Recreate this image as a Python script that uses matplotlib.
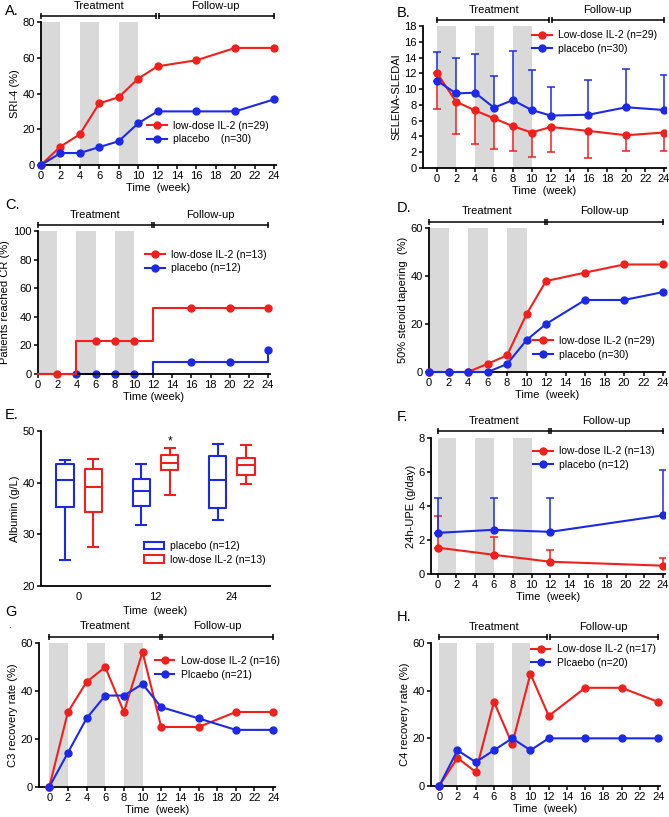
import numpy as np
import matplotlib
matplotlib.use('Agg')
import matplotlib.pyplot as plt
from matplotlib.patches import Patch
from matplotlib.lines import Line2D
from matplotlib.transforms import blended_transform_factory

plt.rcParams['font.family'] = ['Liberation Sans', 'DejaVu Sans']
plt.rcParams['font.size'] = 8

RED = '#f0201c'
BLUE = '#1c2ae8'
GRAY = '#d9d9d9'
FS = 8

weeks = [0, 2, 4, 6, 8, 10, 12, 16, 20, 24]

# A. SRI-4 (%)
sri_il2 = [0, 10.3, 17.2, 34.5, 37.9, 48.3, 55.2, 58.6, 65.5, 65.5]
sri_pbo = [0, 6.7, 6.7, 10.0, 13.3, 23.3, 30.0, 30.0, 30.0, 36.7]

# B. SELENA-SLEDAI (mean, one-sided SD)
sled_il2 = [12.0, 8.4, 7.3, 6.3, 5.3, 4.5, 5.2, 4.7, 4.15, 4.5]
sled_il2_low = [7.5, 4.35, 3.1, 2.35, 2.15, 1.4, 2.0, 1.3, 2.15, 2.15]
sled_pbo = [11.05, 9.45, 9.55, 7.65, 8.6, 7.35, 6.65, 6.75, 7.7, 7.35]
sled_pbo_high = [14.75, 13.9, 14.5, 11.65, 14.8, 12.4, 10.3, 11.1, 12.55, 11.75]

# C. patients reached CR (%) - step curves
cr_il2 = [0, 0, 23.1, 23.1, 23.1, 23.1, 46.2, 46.2, 46.2, 46.2]
cr_pbo = [0, 0, 0, 0, 0, 0, 8.3, 8.3, 8.3, 16.7]
cr_il2_marks = [1, 3, 4, 5, 7, 8, 9]
cr_pbo_marks = [2, 3, 4, 5, 7, 8, 9]

# D. 50% steroid tapering (%)
ster_il2 = [0, 0, 0, 3.4, 6.9, 24.1, 37.9, 41.4, 44.8, 44.8]
ster_pbo = [0, 0, 0, 0, 3.3, 13.3, 20.0, 30.0, 30.0, 33.3]

# E. Albumin box plots (whislo, q1, med, q3, whishi)
alb_weeks = ['0', '12', '24']
alb_pbo = [[25.1, 35.3, 40.5, 43.7, 44.3],
           [31.9, 35.5, 38.4, 40.7, 43.7],
           [32.8, 35.1, 40.5, 45.2, 47.5]]
alb_il2 = [[27.5, 34.3, 39.2, 42.7, 44.6],
           [37.6, 42.4, 43.9, 45.3, 46.8],
           [39.8, 41.5, 43.5, 44.8, 47.2]]

# F. 24h-UPE (g/day)
upe_weeks = [0, 6, 12, 24]
upe_il2 = [1.55, 1.13, 0.72, 0.49]
upe_il2_high = [3.43, 2.18, 1.42, 0.96]
upe_pbo = [2.42, 2.6, 2.48, 3.45]
upe_pbo_high = [4.5, 4.45, 4.45, 6.12]

# G. C3 recovery rate (%)
c3_il2 = [0, 31.25, 43.75, 50.0, 31.25, 56.25, 25.0, 25.0, 31.25, 31.25]
c3_pbo = [0, 14.3, 28.6, 38.1, 38.1, 42.9, 33.3, 28.6, 23.8, 23.8]

# H. C4 recovery rate (%)
c4_il2 = [0, 11.8, 5.9, 35.3, 17.6, 47.1, 29.4, 41.2, 41.2, 35.3]
c4_pbo = [0, 15, 10, 15, 20, 15, 20, 20, 20, 20]

W, H = 669, 817
fig = plt.figure(figsize=(W / 100, H / 100), dpi=100)


def make_ax(l, r, t, b):
    ax = fig.add_axes([l / W, 1 - b / H, (r - l) / W, (b - t) / H])
    ax.spines['top'].set_visible(False)
    ax.spines['right'].set_visible(False)
    for s in ['left', 'bottom']:
        ax.spines[s].set_linewidth(1.3)
    ax.tick_params(width=1.1, length=3, pad=1.5, labelsize=FS)
    return ax


def time_axis(ax, x0, ymax, yticks):
    ax.set_xlim(x0, 24.2)
    ax.set_xticks(range(0, 25, 2))
    ax.set_ylim(0, ymax)
    ax.set_yticks(yticks)
    ax.set_xlabel('Time  (week)', fontsize=FS, labelpad=1)
    for a in (0, 4, 8):
        ax.axvspan(a, a + 2, color=GRAY, lw=0, zorder=0)


def phase_bar(ax, y=1.04):
    tr = blended_transform_factory(ax.transData, ax.transAxes)
    kw = dict(color='k', lw=1.1, transform=tr, clip_on=False,
              marker='|', markersize=5, markeredgewidth=1.1)
    ax.plot([0, 11.85], [y, y], **kw)
    ax.plot([12.1, 24], [y, y], **kw)
    ax.text(6, y + 0.04, 'Treatment', transform=tr, ha='center', va='bottom', fontsize=FS)
    ax.text(18, y + 0.04, 'Follow-up', transform=tr, ha='center', va='bottom', fontsize=FS)


def lines(ax, il2, pbo):
    ax.plot(weeks, il2, '-o', color=RED, lw=1.5, ms=5, clip_on=False, zorder=3)
    ax.plot(weeks, pbo, '-o', color=BLUE, lw=1.5, ms=5, clip_on=False, zorder=3)


def legend(ax, x, y, handles):
    ax.legend(handles=handles, loc='upper left', bbox_to_anchor=(x, y), frameon=False,
              fontsize=7.5, handlelength=1.9, handletextpad=0.6, borderpad=0,
              borderaxespad=0, labelspacing=0.35)


def line_handles(lab1, lab2):
    return [Line2D([], [], color=RED, marker='o', lw=1.5, ms=5, label=lab1),
            Line2D([], [], color=BLUE, marker='o', lw=1.5, ms=5, label=lab2)]


def panel_label(x, y, s):
    fig.text(x / W, 1 - y / H, s, fontsize=10.5, va='center', ha='left')


ekw = dict(fmt='-o', lw=1.5, ms=5, capsize=3, elinewidth=1.1, capthick=1.1, zorder=3)

# A
ax = make_ax(41, 276, 22, 165)
time_axis(ax, 0, 80, [0, 20, 40, 60, 80])
lines(ax, sri_il2, sri_pbo)
ax.set_ylabel('SRI-4 (%)', fontsize=FS, labelpad=2)
phase_bar(ax)
legend(ax, 0.45, 0.31, line_handles('low-dose IL-2 (n=29)', 'placebo    (n=30)'))
panel_label(5, 11, 'A.')

# B
ax = make_ax(423, 666, 26, 168)
time_axis(ax, -1.5, 18, range(0, 19, 2))
ax.errorbar(weeks, sled_il2, yerr=[np.subtract(sled_il2, sled_il2_low), np.zeros(10)],
            color=RED, **ekw)
ax.errorbar(weeks, sled_pbo, yerr=[np.zeros(10), np.subtract(sled_pbo_high, sled_pbo)],
            color=BLUE, **ekw)
ax.set_ylabel('SELENA-SLEDAI', fontsize=FS, labelpad=2)
phase_bar(ax)
legend(ax, 0.45, 0.97, line_handles('Low-dose IL-2 (n=29)', 'placebo (n=30)'))
panel_label(397, 13, 'B.')

# C
ax = make_ax(38, 270, 231, 374)
time_axis(ax, 0, 100, range(0, 101, 20))
ax.plot(weeks, cr_il2, '-o', drawstyle='steps-post', markevery=cr_il2_marks, color=RED,
        lw=1.5, ms=5, clip_on=False, zorder=3)
ax.plot(weeks, cr_pbo, '-o', drawstyle='steps-post', markevery=cr_pbo_marks, color=BLUE,
        lw=1.5, ms=5, clip_on=False, zorder=2)
ax.set_ylabel('Patients reached CR (%)', fontsize=FS, labelpad=2)
ax.set_xlabel('Time (week)', fontsize=FS, labelpad=1)
phase_bar(ax)
legend(ax, 0.46, 0.87, line_handles('low-dose IL-2 (n=13)', 'placebo (n=12)'))
panel_label(5, 205, 'C.')

# D
ax = make_ax(429, 665, 228, 372)
time_axis(ax, 0, 60, [0, 20, 40, 60])
lines(ax, ster_il2, ster_pbo)
ax.set_ylabel('50% steroid tapering  (%)', fontsize=FS, labelpad=2)
phase_bar(ax)
legend(ax, 0.44, 0.25, line_handles('low-dose IL-2 (n=29)', 'placebo (n=30)'))
panel_label(397, 208, 'D.')

# E
ax = make_ax(41, 270, 431, 586)
pos = np.arange(len(alb_weeks))
for data, off, col in ((alb_pbo, -0.185, BLUE), (alb_il2, 0.185, RED)):
    stats = [dict(whislo=d[0], q1=d[1], med=d[2], q3=d[3], whishi=d[4], fliers=[]) for d in data]
    lp = dict(color=col, lw=1.5)
    ax.bxp(stats, positions=pos + off, widths=0.23, showfliers=False,
           boxprops=lp, whiskerprops=lp, capprops=lp, medianprops=lp, capwidths=0.13)
ax.text(pos[1] + 0.185, 47.9, '*', ha='center', va='center', fontsize=8.5)
ax.set_xlim(-0.5, 2.5)
ax.set_xticks(pos)
ax.set_xticklabels(alb_weeks)
ax.tick_params(axis='x', length=0, pad=4)
ax.set_ylim(20, 50)
ax.set_yticks([20, 30, 40, 50])
ax.set_ylabel('Albumin (g/L)', fontsize=FS, labelpad=2)
ax.set_xlabel('Time  (week)', fontsize=FS, labelpad=3)
legend(ax, 0.45, 0.29, [
    Patch(facecolor='white', edgecolor=BLUE, lw=1.5, label='placebo (n=12)'),
    Patch(facecolor='white', edgecolor=RED, lw=1.5, label='low-dose IL-2 (n=13)')])
panel_label(5, 415, 'E.')

# F
ax = make_ax(431, 665, 438, 574)
time_axis(ax, -0.7, 8, [0, 2, 4, 6, 8])
ax.errorbar(upe_weeks, upe_il2, yerr=[np.zeros(4), np.subtract(upe_il2_high, upe_il2)],
            color=RED, **ekw)
ax.errorbar(upe_weeks, upe_pbo, yerr=[np.zeros(4), np.subtract(upe_pbo_high, upe_pbo)],
            color=BLUE, **ekw)
ax.set_ylabel('24h-UPE (g/day)', fontsize=FS, labelpad=2)
phase_bar(ax, 1.05)
legend(ax, 0.435, 0.94, line_handles('low-dose IL-2 (n=13)', 'placebo (n=12)'))
panel_label(397, 417, 'F.')

# G
ax = make_ax(39, 275, 643, 787)
time_axis(ax, -1.1, 60, [0, 20, 40, 60])
lines(ax, c3_il2, c3_pbo)
ax.set_ylabel('C3 recovery rate (%)', fontsize=FS, labelpad=2)
phase_bar(ax)
legend(ax, 0.49, 0.91, line_handles('Low-dose IL-2 (n=16)', 'Plcaebo (n=21)'))
panel_label(5, 612, 'G')
fig.text(8 / W, 1 - 628 / H, '.', fontsize=7)

# H
ax = make_ax(431, 660, 643, 786)
time_axis(ax, -0.9, 60, [0, 20, 40, 60])
lines(ax, c4_il2, c4_pbo)
ax.set_ylabel('C4 recovery rate (%)', fontsize=FS, labelpad=2)
phase_bar(ax)
legend(ax, 0.435, 0.99, line_handles('Low-dose IL-2 (n=17)', 'Plcaebo (n=20)'))
panel_label(397, 617, 'H.')

fig.savefig('out.png', dpi=100)
